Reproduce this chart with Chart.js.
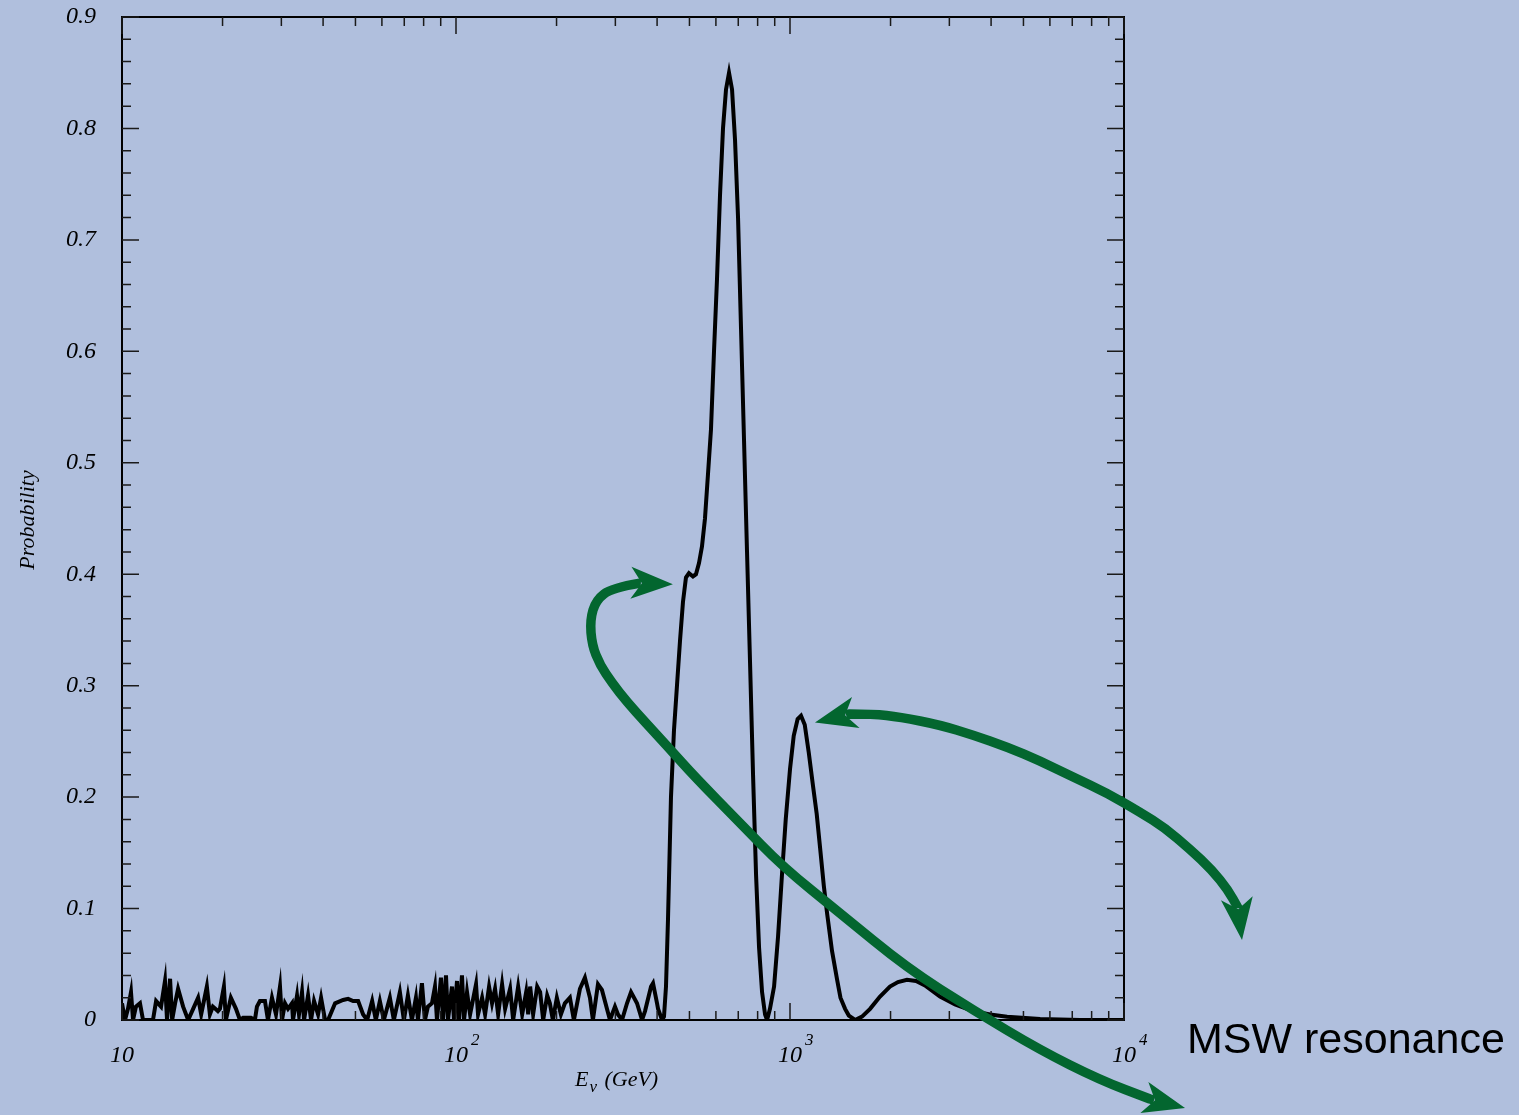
<!DOCTYPE html>
<html>
<head>
<meta charset="utf-8">
<script src="https://cdn.jsdelivr.net/npm/chart.js@4.4.0/dist/chart.umd.min.js"></script>
<style>
  html, body { margin: 0; padding: 0; background: #b0bfdd; }
  #wrap { width: 1519px; height: 1115px; position: relative; }
</style>
</head>
<body>
<div id="wrap"><canvas id="probChart"></canvas></div>
<script>
// neutrino energy (GeV) and oscillation probability
const energies = [
  10.0, 10.21, 10.42, 10.64, 10.79, 11.01, 11.32, 11.56, 12.38, 12.65,
  13.09, 13.45, 13.64, 13.93, 14.13, 14.42, 14.72, 15.24, 15.78, 16.33,
  16.90, 17.26, 17.95, 18.33, 18.71, 19.37, 19.64, 20.19, 20.47, 21.18,
  21.94, 22.55, 23.03, 24.33, 25.00, 25.35, 25.88, 26.79, 27.35, 28.12,
  28.91, 29.72, 30.13, 30.76, 31.41, 32.28, 32.51, 33.42, 33.88, 34.59,
  35.08, 36.06, 36.81, 37.58, 38.64, 39.45, 40.55, 41.40, 43.45, 45.92,
  47.53, 49.20, 50.93, 52.72, 54.20, 56.10, 57.54, 59.16, 60.81, 63.39,
  65.16, 67.92, 69.82, 71.78, 73.79, 75.86, 76.91, 79.07, 80.72, 82.41,
  84.72, 86.50, 87.70, 90.16, 91.41, 93.33, 94.62, 97.27, 98.63, 100.7,
  102.1, 104.2, 105.7, 107.9, 110.2, 114.8, 116.4, 119.7, 122.2, 125.6,
  128.2, 130.9, 133.7, 137.4, 140.3, 145.2, 148.3, 153.5, 157.8, 162.2,
  164.5, 166.7, 170.2, 175.0, 178.6, 182.4, 187.5, 191.0, 195.0, 200.4,
  206.1, 211.8, 219.3, 225.4, 235.0, 243.2, 251.8, 257.0, 266.1, 273.5,
  283.1, 289.1, 299.2, 305.5, 314.1, 325.1, 334.2, 348.3, 360.6, 368.1,
  383.7, 389.0, 399.9, 402.7, 414.0,
  419.5, 425.3, 431.2, 440.2, 449.4, 458.8, 468.4, 478.1, 488.1, 498.3,
  512.3, 523.0, 534.0, 545.1, 556.5, 568.2, 580.0, 592.2, 604.6, 617.2,
  630.1, 643.3, 656.8, 670.6, 684.5, 698.9, 713.5, 728.4, 743.6, 759.3,
  775.1, 791.4, 807.9, 824.8, 842.1, 853.8,
  871, 896, 921, 946, 971, 1000, 1026, 1054, 1079, 1107,
  1138, 1172, 1202, 1230, 1263, 1291, 1336, 1384, 1416, 1462,
  1500, 1566, 1643, 1737, 1860, 1992, 2105, 2240, 2384, 2535,
  2812, 3119, 3530, 3971, 4467, 5610, 7385, 10000
];
const probability = [
  0.015, 0.0, 0.01, 0.025, 0.0, 0.012, 0.015, 0.0, 0.0, 0.017,
  0.012, 0.035, 0.0, 0.037, 0.0, 0.015, 0.028, 0.012, 0.0, 0.01,
  0.02, 0.005, 0.03, 0.005, 0.012, 0.008, 0.01, 0.03, 0.0, 0.02,
  0.01, 0.0, 0.002, 0.002, 0.0, 0.012, 0.017, 0.017, 0.0, 0.02,
  0.005, 0.03, 0.0, 0.015, 0.01, 0.015, 0.0, 0.022, 0.005, 0.025,
  0.0, 0.022, 0.0, 0.017, 0.005, 0.02, 0.0, 0.0, 0.015, 0.018,
  0.019, 0.017, 0.017, 0.005, 0.0, 0.017, 0.0, 0.017, 0.0, 0.02,
  0.0, 0.025, 0.0, 0.022, 0.0, 0.02, 0.0, 0.033, 0.0, 0.012,
  0.015, 0.03, 0.0, 0.038, 0.0, 0.04, 0.0, 0.03, 0.0, 0.035,
  0.0, 0.04, 0.0, 0.025, 0.005, 0.032, 0.005, 0.02, 0.005, 0.03,
  0.015, 0.028, 0.005, 0.032, 0.01, 0.028, 0.0, 0.03, 0.005, 0.025,
  0.005, 0.03, 0.005, 0.03, 0.025, 0.0, 0.022, 0.015, 0.0, 0.02,
  0.005, 0.015, 0.02, 0.0, 0.028, 0.038, 0.02, 0.0, 0.032, 0.027,
  0.01, 0.0, 0.012, 0.005, 0.0, 0.015, 0.025, 0.015, 0.0, 0.008,
  0.03, 0.033, 0.015, 0.01, 0.0,
  0.003, 0.03, 0.09, 0.2, 0.26, 0.3, 0.34, 0.375, 0.397, 0.401,
  0.398, 0.4, 0.41, 0.425, 0.45, 0.49, 0.53, 0.6, 0.665, 0.74,
  0.8, 0.835, 0.85, 0.835, 0.79, 0.72, 0.62, 0.52, 0.42, 0.32,
  0.22, 0.13, 0.065, 0.025, 0.005, 0.0,
  0.01, 0.03, 0.075, 0.13, 0.18, 0.225, 0.255, 0.27, 0.273, 0.265,
  0.24, 0.21, 0.185, 0.155, 0.12, 0.096, 0.062, 0.036, 0.02, 0.01,
  0.004, 0.0, 0.003, 0.01, 0.021, 0.03, 0.034, 0.036, 0.035, 0.031,
  0.021, 0.014, 0.008, 0.005, 0.003, 0.001, 0.0, 0.0
];

const yTickLabels = ['0', '0.1', '0.2', '0.3', '0.4', '0.5', '0.6', '0.7', '0.8', '0.9'];
const xTickValues = [10, 100, 1000, 10000];
const xTickBase = ['10', '10', '10', '10'];
const xTickExp = ['', '2', '3', '4'];

// green annotation arrows, in (energy, probability); first/last entries are the tips
const loopArrowE = [446, 355.5, 293.2, 262.6, 251.9, 255.4, 269.9, 293.2, 325.1, 368.1, 431.2, 519.4, 708.6, 952.8, 1411, 2240, 3530, 5604, 8475, 11960, 15230];
const loopArrowP = [0.391, 0.392, 0.3877, 0.3769, 0.3589, 0.3365, 0.3186, 0.3024, 0.2854, 0.2674, 0.245, 0.2181, 0.1768, 0.1373, 0.096, 0.0467, 0.009, -0.0269, -0.0538, -0.0709, -0.079];
const peakArrowE = [1188, 1512, 1772, 2135, 2813, 3530, 4464, 5604, 7037, 8896, 11167, 13270, 15760, 18340, 20490, 21950, 22560];
const peakArrowP = [0.267, 0.2746, 0.2746, 0.2719, 0.2647, 0.2557, 0.245, 0.2324, 0.2181, 0.2037, 0.1866, 0.1723, 0.1534, 0.1346, 0.1167, 0.1005, 0.0718];

const serif = '"Liberation Serif", "DejaVu Serif", serif';
const green = '#03662f';

function arrowHead(ctx, tip, from) {
  let dx = tip.x - from.x, dy = tip.y - from.y;
  const d = Math.hypot(dx, dy); dx /= d; dy /= d;
  const nx = -dy, ny = dx;
  ctx.beginPath();
  ctx.moveTo(tip.x, tip.y);
  ctx.lineTo(tip.x - dx * 42 + nx * 16, tip.y - dy * 42 + ny * 16);
  ctx.lineTo(tip.x - dx * 31, tip.y - dy * 31);
  ctx.lineTo(tip.x - dx * 42 - nx * 16, tip.y - dy * 42 - ny * 16);
  ctx.closePath();
  ctx.fill();
}

function notch(tip, from) {
  const dx = tip.x - from.x, dy = tip.y - from.y;
  const d = Math.hypot(dx, dy);
  return { x: tip.x - dx / d * 32, y: tip.y - dy / d * 32 };
}

function drawArrow(ctx, x, y, es, ps) {
  const pts = es.map((e, i) => ({ x: x.getPixelForValue(e), y: y.getPixelForValue(ps[i]) }));
  const n = pts.length;
  const start = notch(pts[0], pts[1]);
  const end = notch(pts[n - 1], pts[n - 2]);
  ctx.beginPath();
  ctx.moveTo(start.x, start.y);
  ctx.lineTo(pts[1].x, pts[1].y);
  for (let i = 2; i < n - 2; i++) {
    const mx = (pts[i].x + pts[i + 1].x) / 2, my = (pts[i].y + pts[i + 1].y) / 2;
    ctx.quadraticCurveTo(pts[i].x, pts[i].y, mx, my);
  }
  ctx.lineTo(pts[n - 2].x, pts[n - 2].y);
  ctx.lineTo(end.x, end.y);
  ctx.stroke();
  arrowHead(ctx, pts[n - 1], pts[n - 2]);
  arrowHead(ctx, pts[0], pts[1]);
}

const decorations = {
  id: 'decorations',
  afterDatasetsDraw(chart) {
    const { ctx, chartArea: a, scales: { x, y } } = chart;
    ctx.save();

    // frame
    ctx.strokeStyle = '#000';
    ctx.lineWidth = 2;
    ctx.strokeRect(a.left, a.top, a.right - a.left, a.bottom - a.top);

    // ticks on all four sides, pointing in
    ctx.strokeStyle = '#1a1a1a';
    ctx.lineWidth = 1.5;
    ctx.beginPath();
    for (let i = 0; i <= 45; i++) {
      const py = y.getPixelForValue(i * 0.02);
      const len = i % 5 === 0 ? 17 : 9;
      ctx.moveTo(a.left, py); ctx.lineTo(a.left + len, py);
      ctx.moveTo(a.right, py); ctx.lineTo(a.right - len, py);
    }
    for (let d = 1; d < 4; d++) {
      for (let k = 1; k <= 10; k++) {
        const px = x.getPixelForValue(k * Math.pow(10, d));
        const len = (k === 1 || k === 10) ? 17 : 9;
        ctx.moveTo(px, a.bottom); ctx.lineTo(px, a.bottom - len);
        ctx.moveTo(px, a.top); ctx.lineTo(px, a.top + len);
      }
    }
    ctx.stroke();

    // x tick labels with exponents
    ctx.fillStyle = '#000';
    ctx.textBaseline = 'alphabetic';
    xTickValues.forEach((v, i) => {
      const px = x.getPixelForValue(v);
      ctx.font = 'italic 24px ' + serif;
      ctx.textAlign = 'center';
      ctx.fillText(xTickBase[i], px, a.bottom + 42);
      const w = ctx.measureText(xTickBase[i]).width;
      if (xTickExp[i]) {
        ctx.font = 'italic 17px ' + serif;
        ctx.textAlign = 'left';
        ctx.fillText(xTickExp[i], px + w / 2 + 3, a.bottom + 25);
      }
    });

    // axis titles
    ctx.font = 'italic 22px ' + serif;
    ctx.textAlign = 'left';
    const ex = 575, ey = a.bottom + 66;
    ctx.fillText('E', ex, ey);
    const ew = ctx.measureText('E').width;
    ctx.font = 'italic 17px ' + serif;
    ctx.fillText('\u03bd', ex + ew + 1, ey + 6);
    ctx.font = 'italic 22px ' + serif;
    ctx.fillText('(GeV)', ex + ew + 16, ey);

    ctx.save();
    ctx.translate(34, 520);
    ctx.rotate(-Math.PI / 2);
    ctx.textAlign = 'center';
    ctx.font = 'italic 22px ' + serif;
    ctx.fillText('Probability', 0, 0);
    ctx.restore();

    // side label
    ctx.font = '43px "Liberation Sans", Arial, sans-serif';
    ctx.textAlign = 'left';
    ctx.fillText('MSW resonance', 1187, 1053);

    // arrows
    ctx.strokeStyle = green;
    ctx.fillStyle = green;
    ctx.lineWidth = 9.5;
    ctx.lineCap = 'butt';
    ctx.lineJoin = 'round';
    drawArrow(ctx, x, y, loopArrowE, loopArrowP);
    drawArrow(ctx, x, y, peakArrowE, peakArrowP);

    ctx.restore();
  }
};

const ctx = document.getElementById('probChart').getContext('2d');
const probChart = new Chart(ctx, {
  type: 'line',
  data: {
    datasets: [{
      label: 'Probability',
      data: energies.map((e, i) => ({ x: e, y: probability[i] })),
      borderColor: '#000',
      borderWidth: 4,
      borderJoinStyle: 'miter',
      pointRadius: 0,
      tension: 0,
      fill: false
    }]
  },
  options: {
    responsive: true,
    maintainAspectRatio: false,
    animation: false,
    events: [],
    layout: { autoPadding: false, padding: { top: 17, right: 395, left: 0, bottom: 0 } },
    plugins: { legend: { display: false }, tooltip: { enabled: false } },
    scales: {
      x: {
        type: 'logarithmic',
        min: 10,
        max: 10000,
        grid: { display: false, drawTicks: false },
        border: { display: false },
        ticks: { display: false },
        afterFit: s => { s.height = 95; s.paddingLeft = 0; s.paddingRight = 0; }
      },
      y: {
        min: 0,
        max: 0.9,
        grid: { display: false, drawTicks: false },
        border: { display: false },
        ticks: {
          stepSize: 0.1,
          padding: 26,
          color: '#000',
          font: { family: serif, style: 'italic', size: 24 },
          callback: v => yTickLabels[Math.round(v * 10)]
        },
        afterFit: s => { s.width = 122; s.paddingTop = 0; s.paddingBottom = 0; }
      }
    }
  },
  plugins: [decorations]
});
</script>
</body>
</html>
